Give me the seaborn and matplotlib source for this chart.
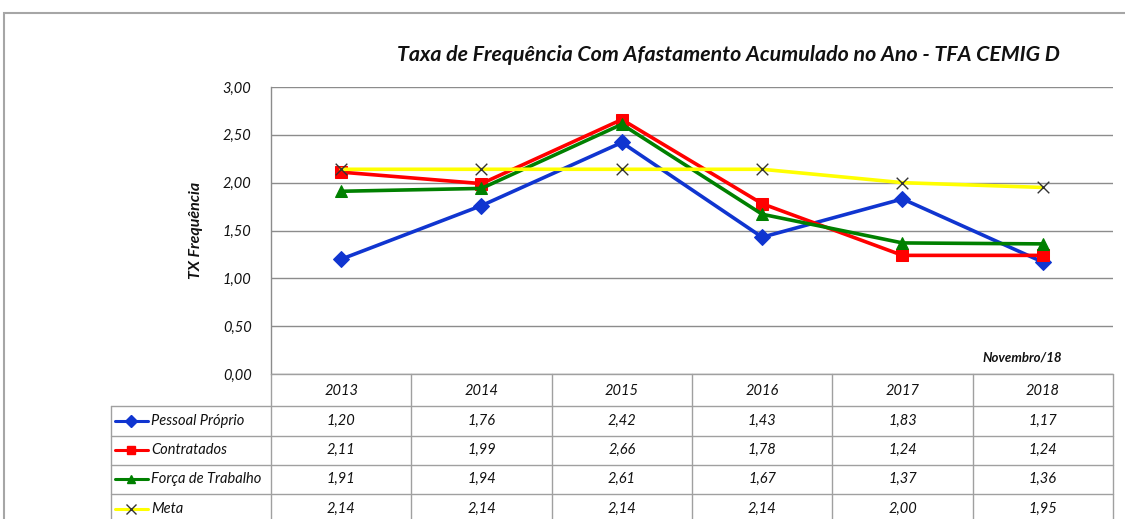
import matplotlib
matplotlib.use("Agg")
import matplotlib.pyplot as plt
import seaborn as sns
import pandas as pd
from matplotlib.lines import Line2D
from matplotlib.patches import Rectangle

years = ["2013", "2014", "2015", "2016", "2017", "2018"]
pessoal = [1.20, 1.76, 2.42, 1.43, 1.83, 1.17]
contratados = [2.11, 1.99, 2.66, 1.78, 1.24, 1.24]
forca = [1.91, 1.94, 2.61, 1.67, 1.37, 1.36]
meta = [2.14, 2.14, 2.14, 2.14, 2.00, 1.95]
series_names = ["Pessoal Próprio", "Contratados", "Força de Trabalho", "Meta"]
yticks = [0.0, 0.5, 1.0, 1.5, 2.0, 2.5, 3.0]
title = "Taxa de Frequência Com Afastamento Acumulado no Ano - TFA CEMIG D"
ylabel = "TX Frequência"
note = "Novembro/18"

sns.set_theme(style="white")
plt.rcParams['font.family'] = ['Lato', 'DejaVu Sans']

W, H = 1125, 519
fig = plt.figure(figsize=(W / 100, H / 100), dpi=100)

def fx(px):
    return px / W

def fy(py):
    return 1 - py / H

# plot area
L, R, T, B = 271, 1113, 87, 374
ax = fig.add_axes([fx(L), fy(B), fx(R) - fx(L), fy(T) - fy(B)])

colors = ["#1035D0", "#FF0000", "#008000", "#FFFF00"]
markers = ["D", "s", "^", None]
values = [pessoal, contratados, forca, meta]
xs = list(range(len(years)))

for name, vals, c, m in zip(series_names, values, colors, markers):
    df = pd.DataFrame({"x": xs, "y": vals})
    sns.lineplot(data=df, x="x", y="y", ax=ax, color=c, linewidth=2.6,
                 marker=m, markersize=8, markeredgecolor=c, legend=False)
dfm = pd.DataFrame({"x": xs, "y": meta})
sns.scatterplot(data=dfm, x="x", y="y", ax=ax, marker="x", color="#333333",
                s=70, linewidth=1.0, legend=False, zorder=5)

ax.set_xlim(-0.5, len(years) - 0.5)
ax.set_ylim(0, 3)
ax.set_yticks(yticks)
ax.set_yticklabels([f"{v:.2f}".replace(".", ",") for v in yticks],
                   fontsize=10.5, style="italic", color="#111111")
ax.set_xticks([])
ax.set_xlabel("")
ax.set_ylabel("")
for v in yticks:
    ax.axhline(v, color="#8c8c8c", linewidth=1.0, zorder=0)
for s in ["top", "right", "bottom"]:
    ax.spines[s].set_visible(False)
ax.spines["left"].set_color("#8c8c8c")
ax.spines["left"].set_linewidth(1.0)
ax.tick_params(axis="y", length=0, pad=14)

fig.text(fx(728), fy(55), title, ha="center", va="center", fontsize=15.4,
         fontweight="bold", style="italic", color="#111111")
fig.text(fx(196), fy(230), ylabel, ha="center", va="center", rotation=90,
         fontsize=11.5, fontweight="bold", style="italic", color="#111111")
fig.text(fx(1062), fy(357), note, ha="right", va="center", fontsize=9.5,
         fontweight="bold", style="italic", color="#111111")

# figure frame
fig.add_artist(Rectangle((fx(4), fy(530)), 1.2, fy(13) - fy(530),
                         transform=fig.transFigure, fill=False,
                         edgecolor="#a6a6a6", linewidth=1.5))

# data table
gc = "#a0a0a0"
col_edges = [L + i * (R - L) / len(years) for i in range(len(years) + 1)]
row_edges = [374, 406, 436, 465, 494, 524]
LC = 111

def hline(x0, x1, y):
    fig.add_artist(Line2D([fx(x0), fx(x1)], [fy(y), fy(y)], color=gc, linewidth=1.0))

def vline(x, y0, y1):
    fig.add_artist(Line2D([fx(x), fx(x)], [fy(y0), fy(y1)], color=gc, linewidth=1.0))

hline(L, R, row_edges[0])
for y in row_edges[1:-1]:
    hline(LC, R, y)
for x in col_edges:
    vline(x, row_edges[0], row_edges[-1])
vline(LC, row_edges[1], row_edges[-1])

for i, yr in enumerate(years):
    cx = (col_edges[i] + col_edges[i + 1]) / 2
    fig.text(fx(cx), fy(391), yr, ha="center",
             va="center", fontsize=10.5, style="italic", color="#111111")

row_centers = [421, 450, 479, 509]
for r, (name, vals, c, m) in enumerate(zip(series_names, values, colors, markers)):
    cy = row_centers[r]
    fig.add_artist(Line2D([fx(115), fx(148)], [fy(cy), fy(cy)], color=c, linewidth=2.2))
    if m is not None:
        fig.add_artist(Line2D([fx(131)], [fy(cy)], color=c, marker=m, markersize=6,
                              linestyle="none"))
    else:
        fig.add_artist(Line2D([fx(131)], [fy(cy)], color="#333333", marker="x",
                              markersize=7, linestyle="none", markeredgewidth=1.0))
    fig.text(fx(151), fy(cy), name, ha="left", va="center", fontsize=10.5,
             style="italic", color="#111111")
    for i, v in enumerate(vals):
        cx = (col_edges[i] + col_edges[i + 1]) / 2
        fig.text(fx(cx), fy(cy), f"{v:.2f}".replace(".", ","), ha="center",
                 va="center", fontsize=10.5, style="italic", color="#111111")

fig.savefig("out.png", dpi=100, facecolor="white")
